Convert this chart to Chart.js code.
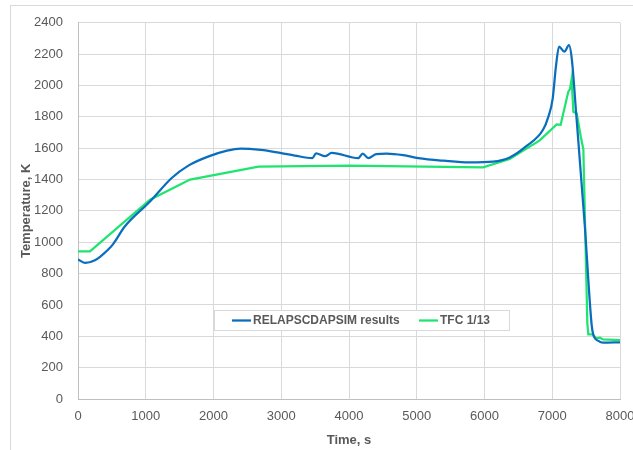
<!DOCTYPE html>
<html>
<head>
<meta charset="utf-8">
<script src="https://cdn.jsdelivr.net/npm/chart.js@4"></script>
<style>
    html, body { margin: 0; padding: 0; overflow: hidden; background: #ffffff; }
    #wrap { width: 660px; height: 450px; }
</style>
</head>
<body>
<div id="wrap"><canvas id="tempChart" width="660" height="450"></canvas></div>
<script>
// ================= DATOS =================
const relapTime = [0, 110, 250, 325, 450, 521, 690, 1063, 1383, 1629, 1950, 2200, 2400, 2700, 3000, 3200, 3460, 3513, 3646, 3745, 4137, 4202, 4285, 4399, 4556, 4800, 5023, 5400, 5781, 6125, 6372, 6617, 6864, 6942, 7006, 7055, 7100, 7178, 7247, 7290, 7355, 7479, 7582, 7607, 7681, 7750, 8000];
const relapTemp = [890, 868, 885, 907, 955, 990, 1100, 1260, 1410, 1489, 1551, 1585, 1598, 1589, 1568, 1553, 1537, 1567, 1549, 1570, 1537, 1565, 1537, 1562, 1566, 1556, 1537, 1520, 1509, 1514, 1541, 1613, 1718, 1800, 1915, 2123, 2248, 2216, 2257, 2164, 1810, 1115, 471, 408, 371, 360, 362];

const tfcTime = [0, 177, 1063, 1654, 2665, 4000, 5978, 6372, 6815, 7065, 7124, 7237, 7262, 7287, 7311, 7361, 7420, 7459, 7518, 7533, 7600, 7646, 7705, 7750, 8000];
const tfcTemp = [942, 942, 1271, 1400, 1483, 1489, 1478, 1531, 1650, 1752, 1749, 1961, 1977, 2044, 1832, 1821, 1676, 1593, 481, 412, 412, 387, 391, 380, 375];

const seriesNames = ["RELAPSCDAPSIM results", "TFC 1/13"];
const xTitle = "Time, s";
const yTitle = "Temperature, K";

const textColor = "#595959";
const gridColor = "#d9d9d9";
const fontFamily = "'Liberation Sans', Arial, sans-serif";

function toPoints(xs, ys) {
    return xs.map((x, i) => ({ x: x, y: ys[i] }));
}


// ================= MARCO Y LEYENDA =================
const framePlugin = {
    id: "frame",
    beforeDraw(chart) {
        const c = chart.ctx;
        c.save();
        c.strokeStyle = gridColor;
        c.lineWidth = 1;
        c.strokeRect(10.5, 5.5, 800, 600);
        c.restore();
    },
    afterDraw(chart) {
        const c = chart.ctx;
        const box = { x: 214.5, y: 310.5, w: 295, h: 20 };
        c.save();
        c.fillStyle = "#ffffff";
        c.fillRect(box.x, box.y, box.w, box.h);
        c.strokeStyle = gridColor;
        c.lineWidth = 1;
        c.strokeRect(box.x, box.y, box.w, box.h);

        const midY = box.y + box.h / 2;
        const starts = [232, 419];
        c.font = "bold 12px " + fontFamily;
        c.textBaseline = "middle";
        chart.data.datasets.forEach((ds, i) => {
            const x0 = starts[i];
            c.strokeStyle = ds.borderColor;
            c.lineWidth = 2.25;
            c.beginPath();
            c.moveTo(x0, midY);
            c.lineTo(x0 + 19, midY);
            c.stroke();
            c.fillStyle = textColor;
            c.fillText(ds.label, x0 + 21, midY + 0.5);
        });
        c.restore();
    }
};


// ================= GRÁFICA =================
const ctx = document.getElementById("tempChart");

const tempChart = new Chart(ctx, {
    type: "line",
    data: {
        datasets: [{
            label: seriesNames[0],
            data: toPoints(relapTime, relapTemp),
            borderColor: "#0a6ebd",
            borderWidth: 2.25,
            pointRadius: 0,
            cubicInterpolationMode: "monotone",
            fill: false
        }, {
            label: seriesNames[1],
            data: toPoints(tfcTime, tfcTemp),
            borderColor: "#1fe470",
            borderWidth: 2.25,
            pointRadius: 0,
            tension: 0,
            fill: false
        }]
    },
    options: {
        responsive: false,
        animation: false,
        layout: {
            padding: { top: 14, right: 40, bottom: 0, left: 0 }
        },
        plugins: {
            legend: { display: false },
            tooltip: { enabled: false }
        },
        scales: {
            x: {
                type: "linear",
                min: 0,
                max: 8000,
                ticks: {
                    stepSize: 1000,
                    color: textColor,
                    padding: 10,
                    maxRotation: 0,
                    font: { family: fontFamily, size: 13 },
                    callback: (value) => String(value)
                },
                grid: { color: gridColor, drawTicks: false },
                border: { color: "#bfbfbf" },
                title: {
                    display: true,
                    text: xTitle,
                    color: textColor,
                    padding: { top: 0, bottom: 2 },
                    font: { family: fontFamily, size: 13, weight: "bold" }
                },
                afterFit(scale) {
                    scale.height = 51;
                }
            },
            y: {
                min: 0,
                max: 2400,
                ticks: {
                    stepSize: 200,
                    color: textColor,
                    padding: 15,
                    font: { family: fontFamily, size: 13 },
                    callback: (value) => String(value)
                },
                grid: { color: gridColor, drawTicks: false },
                border: { color: "#bfbfbf" },
                title: {
                    display: true,
                    text: yTitle,
                    color: textColor,
                    padding: { top: 19, bottom: 0 },
                    font: { family: fontFamily, size: 13, weight: "bold" }
                },
                afterFit(scale) {
                    scale.width = 78;
                }
            }
        }
    },
    plugins: [framePlugin]
});
</script>
</body>
</html>
